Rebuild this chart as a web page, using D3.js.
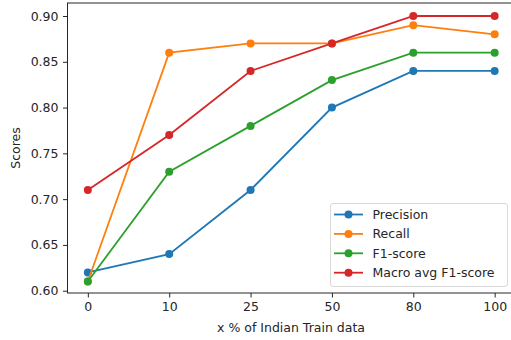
<!DOCTYPE html>
<html>
<head>
<meta charset="utf-8">
<script src="https://cdn.jsdelivr.net/npm/d3@7"></script>
<style>
  body { margin: 0; background: #fff; }
  text { font-family: "DejaVu Sans", sans-serif; fill: #262626; }
</style>
</head>
<body>
<script>
// chart data
const categories = ["0", "10", "25", "50", "80", "100"];
const precision = [0.62, 0.64, 0.71, 0.80, 0.84, 0.84];
const recall    = [0.61, 0.86, 0.87, 0.87, 0.89, 0.88];
const f1score   = [0.61, 0.73, 0.78, 0.83, 0.86, 0.86];
const macroF1   = [0.71, 0.77, 0.84, 0.87, 0.90, 0.90];
const seriesNames = ["Precision", "Recall", "F1-score", "Macro avg F1-score"];
const yTicks = [0.60, 0.65, 0.70, 0.75, 0.80, 0.85, 0.90];

const colors = ["#1f77b4", "#ff7f0e", "#2ca02c", "#d62728"];
const series = [precision, recall, f1score, macroF1].map((v, i) => ({name: seriesNames[i], values: v, color: colors[i]}));

let width = 511, height = 340;
let plot = {left: 67.5, top: 3, right: 515, bottom: 293};
const fontSize = "12.5px";

let svg = d3.select("body")
    .append("svg")
    .attr("width", width)
    .attr("height", height);

let x = d3.scaleLinear()
    .domain([-0.25, categories.length - 0.75])
    .range([plot.left, plot.right]);

let y = d3.scaleLinear()
    .domain([0.5975, 0.9142])
    .range([plot.bottom, plot.top]);

// axes
let xAxis = svg.append("g")
    .attr("transform", `translate(0,${plot.bottom})`)
    .call(d3.axisBottom(x).tickValues(d3.range(categories.length)).tickFormat(i => categories[i]).tickSize(4.5).tickPadding(4.5));

let yAxis = svg.append("g")
    .attr("transform", `translate(${plot.left},0)`)
    .call(d3.axisLeft(y).tickValues(yTicks).tickFormat(d3.format(".2f")).tickSize(4.5).tickPadding(4.5));

[xAxis, yAxis].forEach(g => {
    g.select(".domain").remove();
    g.selectAll(".tick line").attr("stroke", "#262626").attr("stroke-width", 1);
    g.selectAll(".tick text").style("font-size", fontSize).attr("fill", "#262626");
});

// spines
svg.append("rect")
    .attr("x", plot.left)
    .attr("y", plot.top)
    .attr("width", plot.right - plot.left)
    .attr("height", plot.bottom - plot.top)
    .attr("fill", "none")
    .attr("stroke", "#262626")
    .attr("stroke-width", 1);

svg.append("text")
    .attr("x", 291)
    .attr("y", 332)
    .attr("text-anchor", "middle")
    .style("font-size", fontSize)
    .text("x % of Indian Train data");

svg.append("text")
    .attr("transform", `translate(19.5,${(plot.top + plot.bottom) / 2}) rotate(-90)`)
    .attr("text-anchor", "middle")
    .style("font-size", fontSize)
    .text("Scores");

// lines and markers
let line = d3.line()
    .x((d, i) => x(i))
    .y(d => y(d));

series.forEach(s => {
    let g = svg.append("g");
    g.append("path")
        .datum(s.values)
        .attr("d", line)
        .attr("fill", "none")
        .attr("stroke", s.color)
        .attr("stroke-width", 1.8);
    g.selectAll("circle")
        .data(s.values)
        .enter().append("circle")
        .attr("cx", (d, i) => x(i))
        .attr("cy", d => y(d))
        .attr("r", 4)
        .attr("fill", s.color);
});

// legend
let legend = svg.append("g");
legend.append("rect")
    .attr("x", 330.5)
    .attr("y", 203.5)
    .attr("width", 177)
    .attr("height", 83)
    .attr("rx", 2.5)
    .attr("fill", "white")
    .attr("fill-opacity", 0.8)
    .attr("stroke", "#d9d9d9")
    .attr("stroke-width", 1);

series.forEach((s, i) => {
    let ly = 214.5 + i * 19.4;
    legend.append("line")
        .attr("x1", 334).attr("x2", 363)
        .attr("y1", ly).attr("y2", ly)
        .attr("stroke", s.color)
        .attr("stroke-width", 1.8);
    legend.append("circle")
        .attr("cx", 348.5).attr("cy", ly)
        .attr("r", 4)
        .attr("fill", s.color);
    legend.append("text")
        .attr("x", 372.5)
        .attr("y", ly + 4.5)
        .style("font-size", fontSize)
        .text(s.name);
});
</script>
</body>
</html>
